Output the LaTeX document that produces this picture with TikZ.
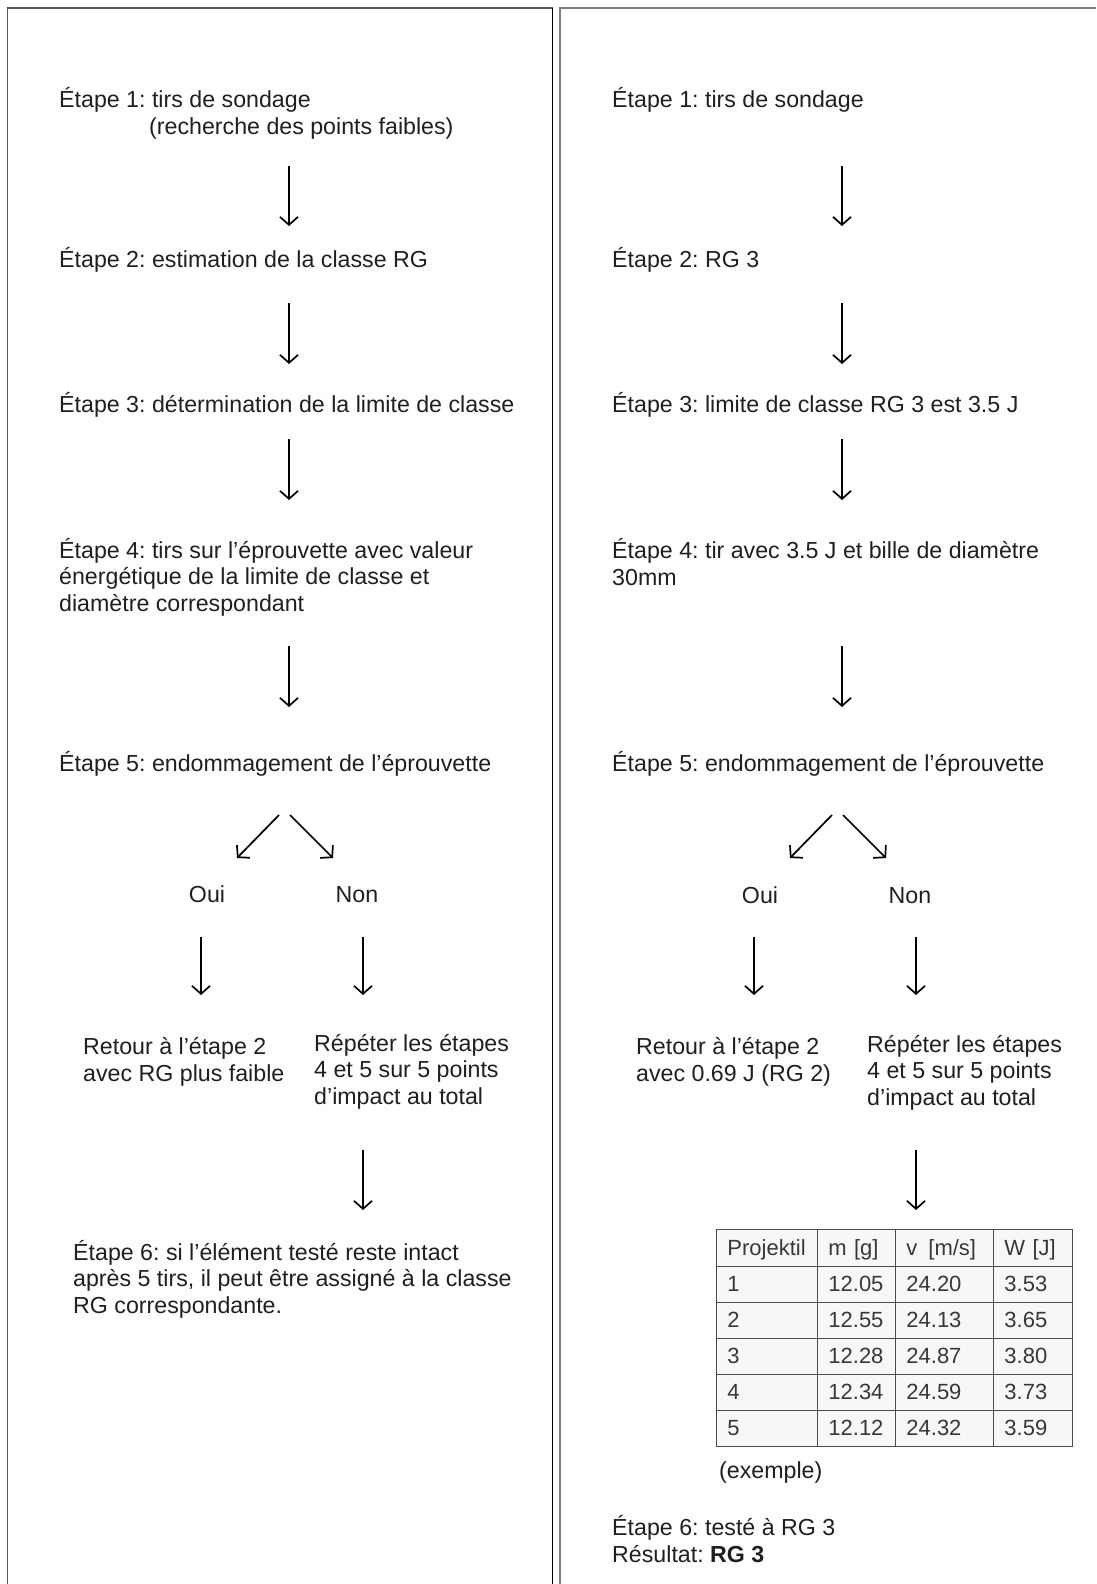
\documentclass[tikz,border=0pt]{standalone}
\usepackage{fontspec}
\setmainfont{Liberation Sans}
\usetikzlibrary{arrows.meta,matrix}
\frenchspacing
\newcommand{\stepfont}{\fontsize{23.2bp}{26.5bp}\selectfont}
\newcommand{\tabfont}{\fontsize{22bp}{24bp}\selectfont}

\begin{document}
\begin{tikzpicture}[x=1bp,y=-1bp]
\tikzstyle{txt}=[anchor=base west, inner sep=0pt, align=left, font=\stepfont, text=black!88]
\tikzstyle{flow}=[line width=1.7bp, -{Straight Barb[length=8bp,width=18bp]}]
\tikzstyle{panel}=[line width=1.8bp]
\tikzstyle{cell}=[draw=black!70, line width=1.8bp, fill=black!3, outer sep=0pt, inner xsep=11bp,
  text height=15bp, text depth=0pt, minimum height=36bp, font=\tabfont, text=black!78]

\useasboundingbox (0,0) rectangle (1096,1584);

% frames
\draw[panel, black!65] (7.5,1584) |- (552.5,8);
\draw[panel, black] (552.5,8) -- (552.5,1584);
\draw[panel, black!50] (560,1584) |- (1096,8);

% left column (multi-line nodes sit on their last baseline)
\node[txt] (l1) at (59,135) {Étape 1: tirs de sondage\\[1bp]\hspace*{90bp}(recherche des points faibles)};
\node[txt] (l2) at (59,267) {Étape 2: estimation de la classe RG};
\node[txt] (l3) at (59,412) {Étape 3: détermination de la limite de classe};
\node[txt] (l4) at (59,611) {Étape 4: tirs sur l’éprouvette avec valeur\\énergétique de la limite de classe et\\diamètre correspondant};
\node[txt] (l5) at (59,771) {Étape 5: endommagement de l’éprouvette};
\node[txt,anchor=base] (loui) at (207,902) {Oui};
\node[txt,anchor=base] (lnon) at (357,902) {Non};
\node[txt] (lret) at (83,1081) {Retour à l’étape 2\\avec RG plus faible};
\node[txt] (lrep) at (314,1104) {Répéter les étapes\\4 et 5 sur 5 points\\d’impact au total};
\node[txt] (l6) at (73,1313) {Étape 6: si l’élément testé reste intact\\après 5 tirs, il peut être assigné à la classe\\RG correspondante.};

% right column (example)
\node[txt] (r1) at (612,108) {Étape 1: tirs de sondage};
\node[txt] (r2) at (612,267) {Étape 2: RG 3};
\node[txt] (r3) at (612,412) {Étape 3: limite de classe RG 3 est 3.5 J};
\node[txt] (r4) at (612,585) {Étape 4: tir avec 3.5 J et bille de diamètre\\30mm};
\node[txt] (r5) at (612,771) {Étape 5: endommagement de l’éprouvette};
\node[txt,anchor=base] (roui) at (760,903) {Oui};
\node[txt,anchor=base] (rnon) at (910,903) {Non};
\node[txt] (rret) at (636,1081) {Retour à l’étape 2\\avec 0.69 J (RG 2)};
\node[txt] (rrep) at (867,1105) {Répéter les étapes\\4 et 5 sur 5 points\\d’impact au total};

\matrix (tab) [matrix of nodes, anchor=north west, row sep=-1.8bp, column sep=-1.8bp,
  nodes={cell},
  column 1/.style={nodes={text width=79bp}},
  column 2/.style={nodes={text width=56bp}},
  column 3/.style={nodes={text width=76bp}},
  column 4/.style={nodes={text width=57bp}},
  row 1/.style={nodes={minimum height=37bp}}] at (712,1225) {
Projektil & m [g]  & v\enspace[m/s] & W [J] \\
1         & 12.05  & 24.20          & 3.53  \\
2         & 12.55  & 24.13          & 3.65  \\
3         & 12.28  & 24.87          & 3.80  \\
4         & 12.34  & 24.59          & 3.73  \\
5         & 12.12  & 24.32          & 3.59  \\
};
\node[txt] (rex) at (719,1478) {(exemple)};
\node[txt] (r6) at (612,1562) {Étape 6: testé à RG 3\\Résultat: \textbf{RG 3}};

% arrows
\foreach \n/\x/\ya/\yb in {a1/289/166/226, a2/289/303/364, a3/289/439/500, a4/289/646/707,
    a5/201/937/995, a6/363/937/995, a7/363/1150/1210,
    b1/842/166/226, b2/842/303/364, b3/842/439/500, b4/842/646/707,
    b5/754/937/995, b6/916/937/995, b7/916/1150/1210}{
  \coordinate (\n-s) at (\x,\ya);
  \coordinate (\n-e) at (\x,\yb);
  \draw[flow] (\n-s) -- (\n-e);
}
\foreach \n/\xa/\xb in {d1/279/237, d2/290/333, e1/832/790, e2/843/886}{
  \coordinate (\n-s) at (\xa,815);
  \coordinate (\n-e) at (\xb,858);
  \draw[flow] (\n-s) -- (\n-e);
}
\end{tikzpicture}
\end{document}
